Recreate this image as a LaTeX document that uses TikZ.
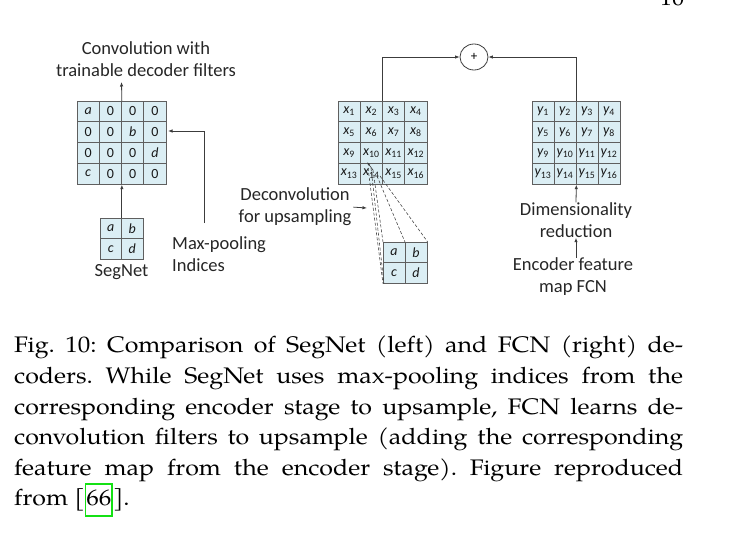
\documentclass[tikz,border=0pt]{standalone}
\usepackage{fontspec}
\setmainfont{TeX Gyre Pagella}[FakeStretch=1.11]
\newfontfamily\lab{Carlito}
\usetikzlibrary{arrows.meta,shapes.geometric}
\definecolor{cellfill}{RGB}{219,238,244}
\definecolor{cellline}{RGB}{95,95,95}
\definecolor{conncol}{RGB}{60,60,60}
\definecolor{refgreen}{RGB}{20,225,20}
\newcommand{\capline}[1]{\makebox[669pt][s]{#1}}
\begin{document}
\frenchspacing
\begin{tikzpicture}[x=1pt,y=-1pt,
  cell/.style={draw=cellline,fill=cellfill,line width=0.7pt,inner sep=0pt,
    font=\lab\fontsize{14}{14}\selectfont,text=black!90},
  grid/.style={draw=cellline,line width=0.7pt,inner sep=0pt,anchor=north west},
  lbl/.style={font=\lab\fontsize{18.5}{22}\selectfont,align=center,inner sep=0pt,text=black!85},
  conn/.style={draw=conncol,line width=0.8pt,-{Latex[length=4.5pt,width=3.5pt]}},
  dline/.style={draw=conncol,line width=0.55pt,dash pattern=on 3pt off 2pt}
]
\useasboundingbox (0,0) rectangle (732,555);

% ---------- SegNet big grid ----------
\foreach \t [count=\i from 0] in {{\itshape a},0,0,0,0,0,{\itshape b},0,0,0,0,{\itshape d},{\itshape c},0,0,0}{
  \pgfmathtruncatemacro\r{\i/4}
  \pgfmathtruncatemacro\c{mod(\i,4)}
  \node[cell,minimum width=22.25pt,minimum height=20.75pt] (sg\i) at ({77+22.25*(\c+0.5)},{101+20.75*(\r+0.5)}) {\t};
}
\node[grid,minimum width=89pt,minimum height=83pt] (SG) at (77,101) {};

% ---------- SegNet small grid ----------
\foreach \t [count=\i from 0] in {a,b,c,d}{
  \pgfmathtruncatemacro\r{\i/2}
  \pgfmathtruncatemacro\c{mod(\i,2)}
  \node[cell,minimum width=21.5pt,minimum height=20.5pt] (ss\i) at ({100+21.5*(\c+0.5)},{218+20.5*(\r+0.5)}) {\itshape\t};
}
\node[grid,minimum width=43pt,minimum height=41pt] (SS) at (100,218) {};

% ---------- FCN x grid ----------
\foreach \i in {0,...,15}{
  \pgfmathtruncatemacro\r{\i/4}
  \pgfmathtruncatemacro\c{mod(\i,4)}
  \pgfmathtruncatemacro\k{\i+1}
  \node[cell,minimum width=22.25pt,minimum height=20.75pt] (x\i) at ({338+22.25*(\c+0.5)},{101+20.75*(\r+0.5)}) {\itshape x\upshape\textsubscript{\k}};
}
\node[grid,minimum width=89pt,minimum height=83pt] (X) at (338,101) {};

% ---------- FCN y grid ----------
\foreach \i in {0,...,15}{
  \pgfmathtruncatemacro\r{\i/4}
  \pgfmathtruncatemacro\c{mod(\i,4)}
  \pgfmathtruncatemacro\k{\i+1}
  \node[cell,minimum width=22pt,minimum height=20.75pt] (y\i) at ({532+22*(\c+0.5)},{101+20.75*(\r+0.5)}) {\itshape y\upshape\textsubscript{\k}};
}
\node[grid,minimum width=88pt,minimum height=83pt] (Y) at (532,101) {};

% ---------- FCN small grid ----------
\foreach \t [count=\i from 0] in {a,b,c,d}{
  \pgfmathtruncatemacro\r{\i/2}
  \pgfmathtruncatemacro\c{mod(\i,2)}
  \node[cell,minimum width=22pt,minimum height=20.5pt] (xs\i) at ({383+22*(\c+0.5)},{242+20.5*(\r+0.5)}) {\itshape\t};
}
\node[grid,minimum width=44pt,minimum height=41pt] (XS) at (383,242) {};

% ---------- sum node ----------
\node[draw=conncol,line width=0.8pt,ellipse,minimum width=28pt,minimum height=26pt,inner sep=0pt,font=\lab\fontsize{13}{13}\selectfont] (plus) at (474,57) {+};

% ---------- labels ----------
\node[lbl] (conv) at (146,59) {Convolution with\\trainable decoder filters};
\node[lbl] (sn) at (121.5,272) {SegNet};
\node[lbl,anchor=north west,align=left] (mp) at (172,236) {Max-pooling\\Indices};
\node[lbl] (dec) at (295,207) {Deconvolution\\for upsampling};
\node[lbl] (dim) at (576,220) {Dimensionality\\reduction};
\node[lbl] (enc) at (573,277) {Encoder feature\\map FCN};

% ---------- coordinates ----------
\coordinate (convtip) at (121.5,82);
\coordinate (mpstart) at (204,223);
\coordinate (mpend) at (168,131);
\coordinate (decend) at (367,208);
\coordinate (apex) at (367,162);
\coordinate (d1) at (368,168);
\coordinate (d2) at (371,168);
\coordinate (d3) at (373,170);
\coordinate (d5) at (377,176);
\coordinate (d6) at (380,176);
\coordinate (xsn) at (405,242);

% ---------- connectors ----------
\draw[conn] (SS.north) -- (SG.south);
\draw[conn] (SG.north) -- (convtip);
\draw[conn] (mpstart) |- (mpend);
\draw[conn] (X.north) |- (plus.west);
\draw[conn] (Y.north) |- (plus.east);
\draw[conn] (dim.north) -- (Y.south);
\draw[conn] (dim.south |- enc.north) -- (dim.south);
\draw[conn,shorten <=2pt] (dec.east) -- (decend);

\draw[dline] (d1) -- (XS.south west);
\draw[dline] (d2) -- ([xshift=1pt]XS.south west);
\draw[dline] (d3) -- (XS.north west);
\draw[dline] (d5) -- (xsn);
\draw[dline] (d6) -- (XS.north east);
\draw[draw=conncol,line width=0.6pt,-{Latex[length=3.5pt,width=2.5pt]}] (d3) -- (apex);

% ---------- page number & caption ----------
\node[anchor=base,inner sep=0pt,font=\fontsize{22}{22}\selectfont] (pg) at (672,5) {10};
\node[anchor=north west,inner sep=0pt,align=left,
  font=\fontsize{22.5}{30.6}\selectfont] (cap) at (14,336)
{\capline{Fig. 10: Comparison of SegNet (left) and FCN (right) de-}\\
\capline{coders. While SegNet uses max-pooling indices from the}\\
\capline{corresponding encoder stage to upsample, FCN learns de-}\\
\capline{convolution filters to upsample (adding the corresponding}\\
\capline{feature map from the encoder stage). Figure reproduced}\\
from [{\fboxsep=0pt\fboxrule=1.4pt\color{refgreen}\fbox{\color{black}\strut 66}}].};
\end{tikzpicture}
\end{document}
